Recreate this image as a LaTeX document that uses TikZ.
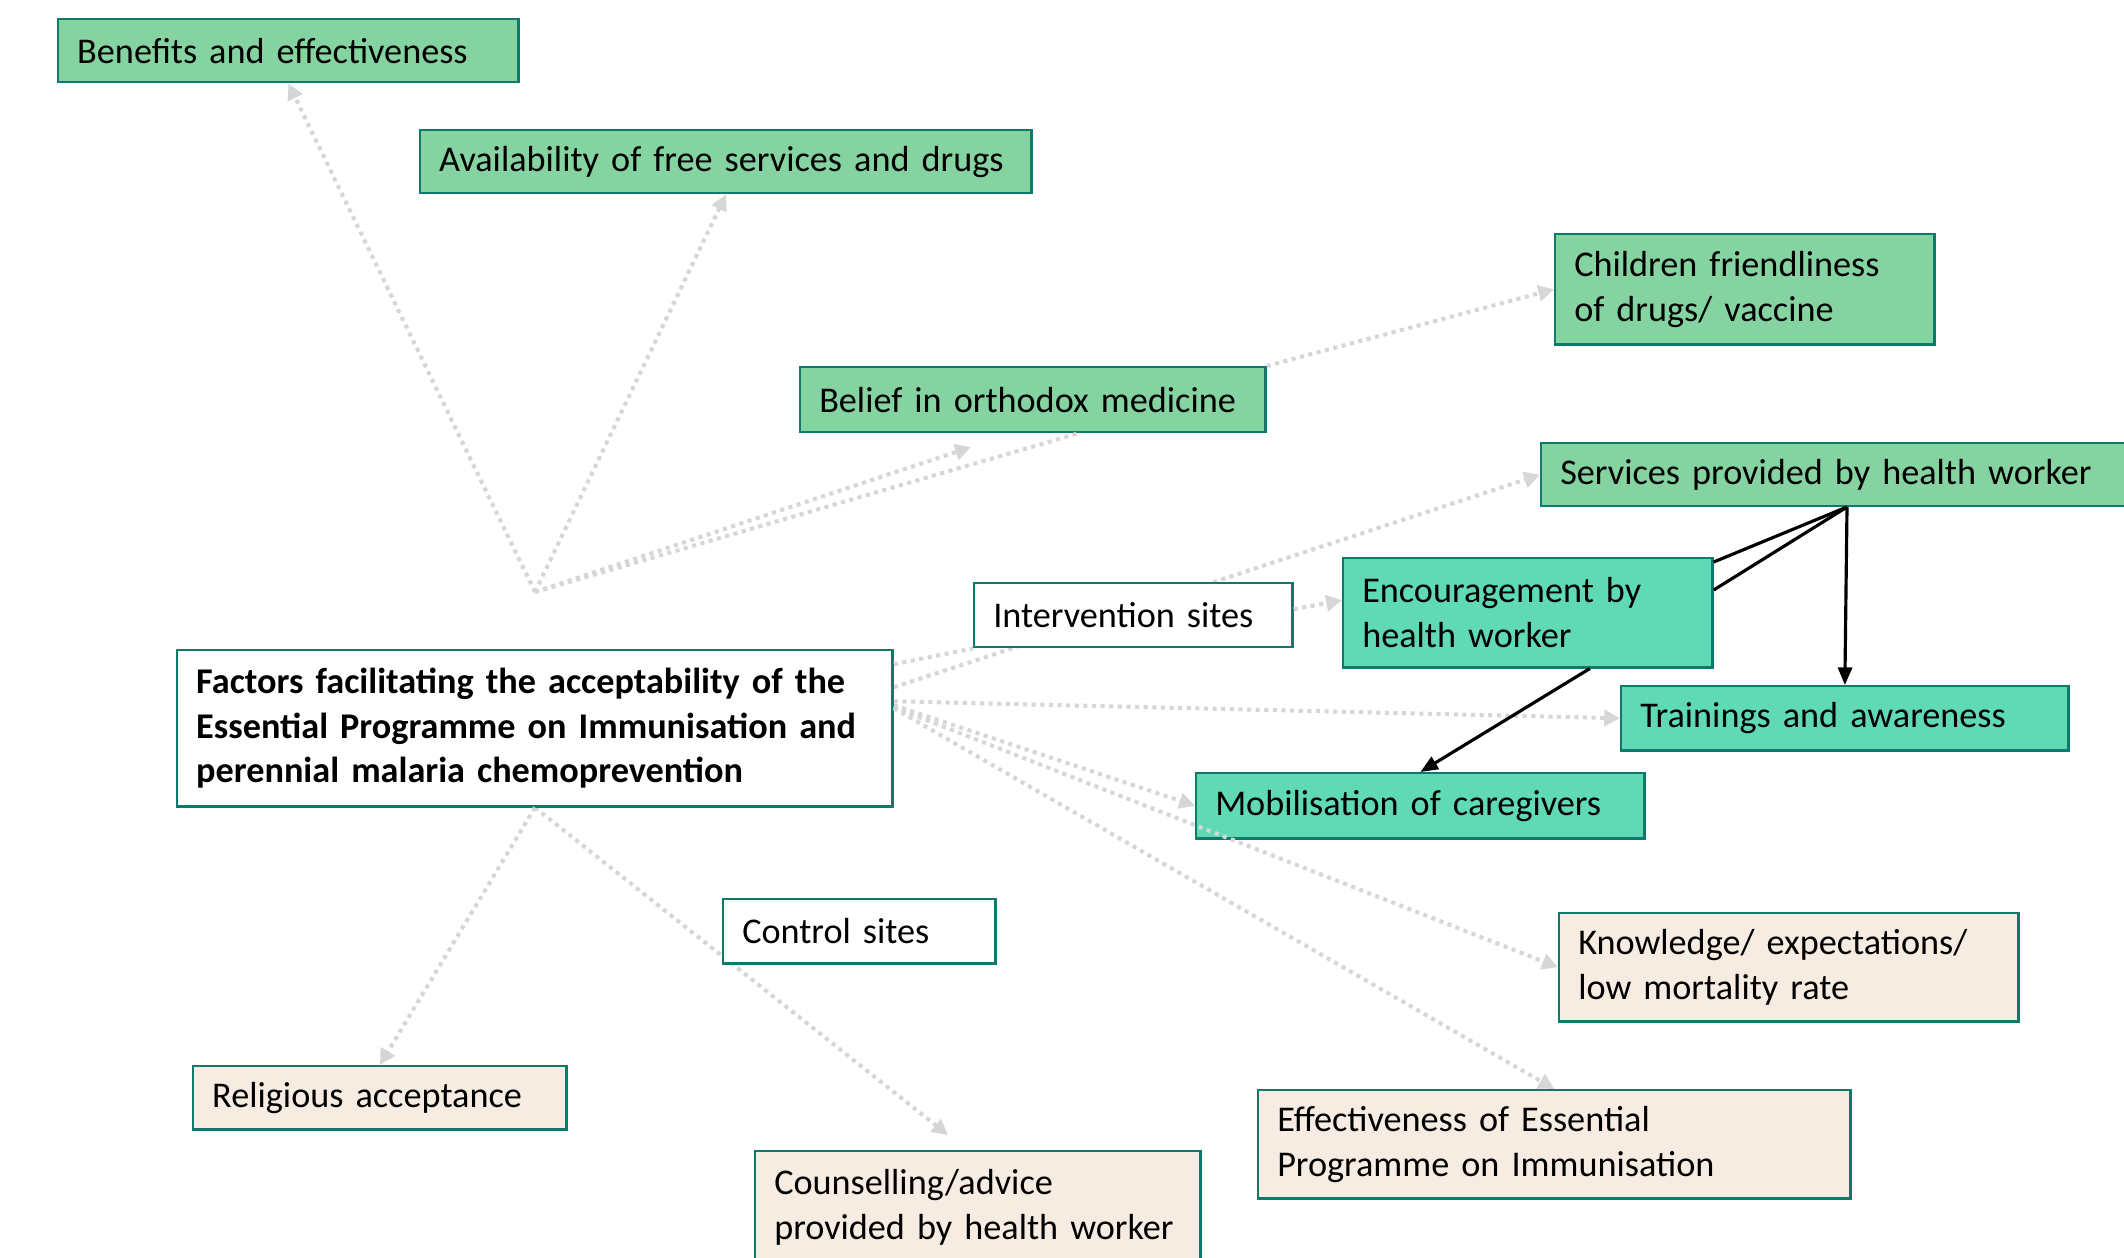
\documentclass[tikz,border=0pt]{standalone}
\usepackage{fontspec}
\setmainfont{Carlito}
\usetikzlibrary{arrows.meta,backgrounds}

\definecolor{boxline}{HTML}{0E7A6B}
\definecolor{leafgreen}{HTML}{84D3A0}
\definecolor{mintgreen}{HTML}{5FDAB4}
\definecolor{sand}{HTML}{F6ECE2}
\definecolor{dotgrey}{HTML}{D6D6D6}

\tikzset{
  factor/.style={draw=boxline, line width=0.7pt, anchor=north west, inner xsep=0.19cm,
    inner ysep=0pt, align=left, font=\fontsize{10.3}{12.7}\selectfont},
  dotlink/.style={draw=dotgrey, line width=1.15pt, dash pattern=on 1.15pt off 1.3pt},
  dotarrow/.style={dotlink, -{Triangle[length=4.5pt,width=4.5pt]}},
  solidarrow/.style={black, line width=0.9pt, -{Triangle[length=5pt,width=4pt]}},
}

\begin{document}
\begin{tikzpicture}[x=0.01cm, y=-0.01cm]
\useasboundingbox (0,0) rectangle (2124,1258);

%% Themes, top half
\node[factor, fill=leafgreen, text width=4.22cm, minimum height=0.63cm] (benefit) at (57,18) {Benefits and effectiveness};
\node[factor, fill=leafgreen, text width=5.73cm, minimum height=0.63cm] (avail) at (419,129) {Availability of free services and drugs};
\node[factor, fill=leafgreen, text width=3.41cm, minimum height=1.10cm] (child) at (1554,233) {Children friendliness\\of drugs/ vaccine};
\node[factor, fill=leafgreen, text width=4.27cm, minimum height=0.65cm] (belief) at (799,366) {Belief in orthodox medicine};
\node[factor, fill=leafgreen, text width=5.62cm, minimum height=0.63cm] (services) at (1540,442) {Services provided by health worker};

% Sites
\node[factor, fill=white, text width=2.80cm, minimum height=0.64cm] (inter) at (973,582) {Intervention sites};
\node[factor, fill=white, text width=2.34cm, minimum height=0.64cm] (control) at (722,898) {Control sites};

% Central box
\node[factor, fill=white, text width=6.77cm, minimum height=1.56cm, font=\fontsize{10.3}{12.7}\selectfont\bfseries] (factors) at (176,649)
  {Factors facilitating the acceptability of the\\Essential Programme on Immunisation and\\perennial malaria chemoprevention};

% Health worker related
\node[factor, fill=mintgreen, text width=3.31cm, minimum height=1.09cm] (encour) at (1342,557) {Encouragement by\\health worker};
\node[factor, fill=mintgreen, text width=4.09cm, minimum height=0.64cm] (train) at (1620,685) {Trainings and awareness};
\node[factor, fill=mintgreen, text width=4.10cm, minimum height=0.65cm] (mobil) at (1195,772) {Mobilisation of caregivers};

% Themes, bottom half
\node[factor, fill=sand, text width=4.21cm, minimum height=1.08cm] (know) at (1558,912) {Knowledge/ expectations/\\low mortality rate};
\node[factor, fill=sand, text width=3.35cm, minimum height=0.63cm] (relig) at (192,1065) {Religious acceptance};
\node[factor, fill=sand, text width=5.54cm, minimum height=1.08cm] (effect) at (1257,1089) {Effectiveness of Essential\\Programme on Immunisation};
\node[factor, fill=sand, text width=4.07cm, minimum height=1.12cm] (counsel) at (754,1150) {Counselling/advice\\provided by health worker};

% free ends
\coordinate (hub) at (535,592);
\coordinate (beliefend) at (971,447);
\coordinate (counseltip) at (948,1135);
\coordinate (svcfoot) at (1847,507);

\begin{scope}[on background layer]
\fill[white] (0,0) rectangle (2124,1258);
\draw[dotarrow] ([yshift=0.41cm]factors.east) -- (services.west);
\draw[dotarrow] (factors.south) -- (counseltip);
\end{scope}

% Dotted links from the hub
\draw[dotarrow] (hub) -- (benefit.south);
\draw[dotarrow] (hub) -- (avail.south);
\draw[dotarrow] (hub) -- (beliefend);
\draw[dotlink] (hub) -- (belief.-37);
\draw[dotarrow] (belief.north east) -- (child.west);

% Dotted links from the central box
\draw[dotlink] ([yshift=0.64cm]factors.east) -- (inter.south west);
\draw[dotarrow] ([yshift=0.06cm]inter.east) -- ([yshift=0.125cm]encour.west);
\draw[dotarrow] ([yshift=0.27cm]factors.east) -- (train.west);
\draw[dotarrow] ([yshift=0.23cm]factors.east) -- (mobil.west);
\draw[dotarrow] ([yshift=0.21cm]factors.east) -- (know.west);
\draw[dotarrow] ([yshift=0.20cm]factors.east) -- (effect.north);
\draw[dotarrow] (factors.south) -- (relig.north);

% Solid links
\draw[solidarrow] (svcfoot) -- (train.north);
\draw[black, line width=0.9pt] (svcfoot) -- ([yshift=-0.05cm]encour.north east);
\draw[black, line width=0.9pt] (svcfoot) -- ([yshift=-0.33cm]encour.north east);
\draw[solidarrow] ([xshift=0.62cm]encour.south) -- (mobil.north);

\end{tikzpicture}
\end{document}
